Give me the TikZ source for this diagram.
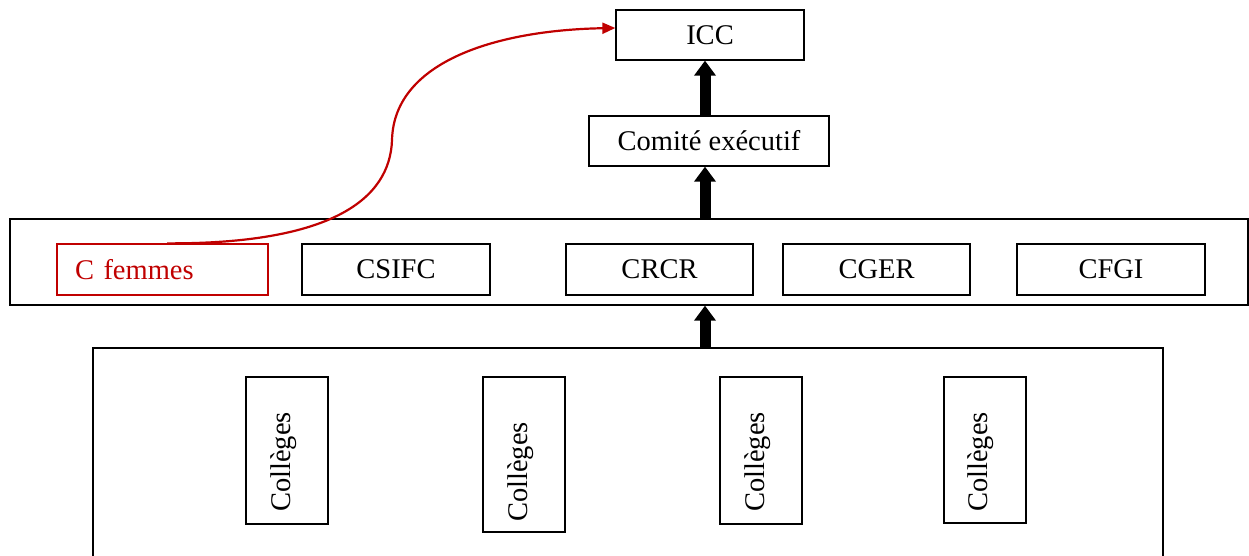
\documentclass[tikz,border=0pt]{standalone}
\usepackage{fontspec}
\setmainfont{Liberation Serif}
\usetikzlibrary{arrows.meta,calc}
\definecolor{redline}{RGB}{192,0,0}
\begin{document}
\begin{tikzpicture}[x=1pt,y=-1pt,
  box/.style={draw=black,line width=1.3pt,inner sep=0pt,font=\fontsize{28.5}{34}\selectfont},
  redbox/.style={box,draw=redline,text=redline},
  bigarrow/.style={line width=11pt,-{Triangle[width=21pt 0,length=15pt 0]}},
  redarrow/.style={draw=redline,line width=2.2pt,-{Triangle[width=11pt 0,length=13pt 0]}},
  coll/.style={box,minimum width=82pt},
  colltext/.style={font=\fontsize{28.5}{34}\selectfont,rotate=90,inner sep=0pt}]
\useasboundingbox (0,0) rectangle (1249,555);
\clip (0,0) rectangle (1249,555);
% top nodes
\node[box,minimum width=188pt,minimum height=50pt] (icc) at (710,35) {ICC};
\node[box,minimum width=240pt,minimum height=50pt] (comite) at (709,141) {Comité exécutif};
% middle band
\node[box,minimum width=1238pt,minimum height=86pt] (mid) at (629,262) {};
\node[redbox,minimum width=211pt,minimum height=51pt,text width=175pt,align=left] (cf) at (162.5,269.5) {C femmes};
\node[box,minimum width=188pt,minimum height=51pt] (csifc) at (396,269.5) {CSIFC};
\node[box,minimum width=187pt,minimum height=51pt] (crcr) at (659.5,269.5) {CRCR};
\node[box,minimum width=187pt,minimum height=51pt] (cger) at (876.5,269.5) {CGER};
\node[box,minimum width=188pt,minimum height=51pt] (cfgi) at (1111,269.5) {CFGI};
% bottom band (open at the bottom edge of the picture)
\node[box,minimum width=1070pt,minimum height=300pt] (colls) at (628,498) {};
\node[coll,minimum height=147pt] (c1) at (287,450.5) {};
\node[coll,minimum height=155pt] (c2) at (524,454.5) {};
\node[coll,minimum height=147pt] (c3) at (761,450.5) {};
\node[coll,minimum height=146pt] (c4) at (985,450) {};
\node[colltext] (t1) at (284,462) {Collèges};
\node[colltext] (t2) at (521,472) {Collèges};
\node[colltext] (t3) at (758,462) {Collèges};
\node[colltext] (t4) at (981,462) {Collèges};
% arrows
\coordinate (ax) at (705,0);
\draw[bigarrow] (colls.north -| ax) -- (mid.south -| ax);
\draw[bigarrow] (mid.north -| ax) -- (comite.south -| ax);
\draw[bigarrow] (comite.north -| ax) -- (icc.south -| ax);
% red curve
\coordinate (rs) at (167,0);
\coordinate (rm) at (392,140);
\draw[redarrow] (cf.north -| rs) .. controls (330,244) and (390,200) .. (rm)
  .. controls (394,60) and (500,30) .. (icc.west |- 0,28);
\end{tikzpicture}
\end{document}
